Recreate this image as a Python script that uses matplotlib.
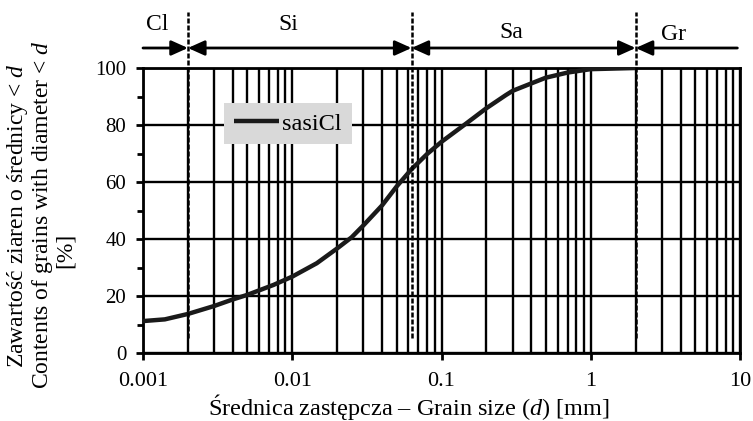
import matplotlib
matplotlib.use("Agg")
import matplotlib.pyplot as plt
from matplotlib.ticker import FixedLocator, FixedFormatter, LogLocator, NullFormatter
import numpy as np

plt.rcParams['font.family'] = ['Liberation Serif', 'DejaVu Serif']
plt.rcParams['mathtext.fontset'] = 'custom'
plt.rcParams['mathtext.rm'] = 'Liberation Serif'
plt.rcParams['mathtext.it'] = 'Liberation Serif:italic'

# data
grain_size = [0.001, 0.0014, 0.002, 0.003, 0.004, 0.005, 0.0075, 0.01, 0.0146,
              0.02, 0.025, 0.03, 0.04, 0.05, 0.063, 0.08, 0.1, 0.147, 0.2,
              0.27, 0.3, 0.4, 0.5, 0.7, 1.0, 2.0]
passing = [11.2, 11.8, 13.7, 16.5, 18.8, 20.4, 23.9, 26.8, 31.5,
           36.7, 40.6, 44.8, 51.8, 58.4, 64.5, 69.8, 74.1, 80.6, 85.9,
           90.5, 92.0, 94.6, 96.6, 98.4, 99.6, 100.0]
series_name = "sasiCl"
x_ticks = [0.001, 0.01, 0.1, 1, 10]
x_ticklabels = ["0.001", "0.01", "0.1", "1", "10"]
y_ticks = [0, 20, 40, 60, 80, 100]
boundaries = [0.002, 0.063, 2.0]
fractions = ["Cl", "Si", "Sa", "Gr"]

W, H = 753, 421
fig = plt.figure(figsize=(W / 100, H / 100), dpi=100)
ax = fig.add_axes([143 / W, 1 - 353 / H, 597 / W, 285 / H])

ax.set_xscale('log')
ax.set_xlim(0.001, 10)
ax.set_ylim(0, 100)

# grid
ax.xaxis.set_major_locator(FixedLocator(x_ticks))
ax.xaxis.set_major_formatter(FixedFormatter(x_ticklabels))
ax.xaxis.set_minor_locator(LogLocator(base=10, subs=np.arange(2, 10)))
ax.xaxis.set_minor_formatter(NullFormatter())
ax.set_yticks(y_ticks)
ax.set_yticks([10, 30, 50, 70, 90], minor=True)
ax.grid(True, which='both', axis='x', color='black', lw=1.7, zorder=1)
ax.grid(True, which='major', axis='y', color='black', lw=1.7, zorder=1)
ax.set_axisbelow(True)

for s in ax.spines.values():
    s.set_linewidth(2)
    s.set_color('black')

ax.tick_params(axis='x', which='major', direction='out', length=5, width=2,
               labelsize=16, pad=9)
ax.tick_params(axis='x', which='minor', length=0)
ax.tick_params(axis='y', which='major', direction='out', length=5, width=2,
               labelsize=15, pad=7)
ax.tick_params(axis='y', which='minor', direction='out', length=4, width=2)

# curve
ax.plot(grain_size, passing, color='#1a1a1a', lw=3.2, zorder=5,
        solid_joinstyle='round', solid_capstyle='butt', label=series_name)

# boundaries (dashed)
tr = ax.get_xaxis_transform()
for b in boundaries:
    ax.plot([b, b], [0.053, 1.196], transform=tr, color='black', lw=1.8,
            ls=(0, (2.0, 0.8)), clip_on=False, zorder=6)

# arrows
y_arr = (353 - 48) / 285
aprops = dict(mutation_scale=10, lw=2, color='black', shrinkA=0, shrinkB=0)
edges = [0.001] + boundaries + [9.6]
styles = ['-|>', '<|-|>', '<|-|>', '<|-']
for i in range(4):
    ax.annotate('', xy=(edges[i + 1], y_arr), xycoords=tr,
                xytext=(edges[i], y_arr), textcoords=tr,
                arrowprops=dict(arrowstyle=styles[i] + ',head_length=1.0,head_width=0.45',
                                **aprops), annotation_clip=False)

label_pos = [(157, 25), (288, 25), (511, 32), (674, 34)]
for name, (px, py) in zip(fractions, label_pos):
    fig.text(px / W, 1 - py / H, name, fontsize=17, ha='center', va='center')

# legend
leg = ax.legend(loc='upper left', bbox_to_anchor=(224 / W, 1 - 103 / H),
                bbox_transform=fig.transFigure, frameon=True, fancybox=False,
                facecolor='#d9d9d9', edgecolor='none', framealpha=1,
                fontsize=17.5, handlelength=1.85, handletextpad=0.15,
                borderpad=0.4, borderaxespad=0)
leg.get_frame().set_linewidth(0)

# axis labels
fig.text(((205 + 612) / 2) / W, 1 - 415 / H,
         r'Średnica zastępcza – Grain size ($\mathit{d}$) [mm]',
         fontsize=17.5, ha='center', va='baseline')
fig.text(18 / W, 1 - 216 / H, r'Zawartość ziaren o średnicy < $\mathit{d}$',
         fontsize=17, rotation=90, ha='center', va='center')
fig.text(43 / W, 1 - 215 / H, r'Contents of grains with diameter < $\mathit{d}$',
         fontsize=17, rotation=90, ha='center', va='center')
fig.text(65 / W, 1 - 250 / H, '[%]', fontsize=17, rotation=90,
         ha='center', va='center')

fig.savefig('out.png', dpi=100)
